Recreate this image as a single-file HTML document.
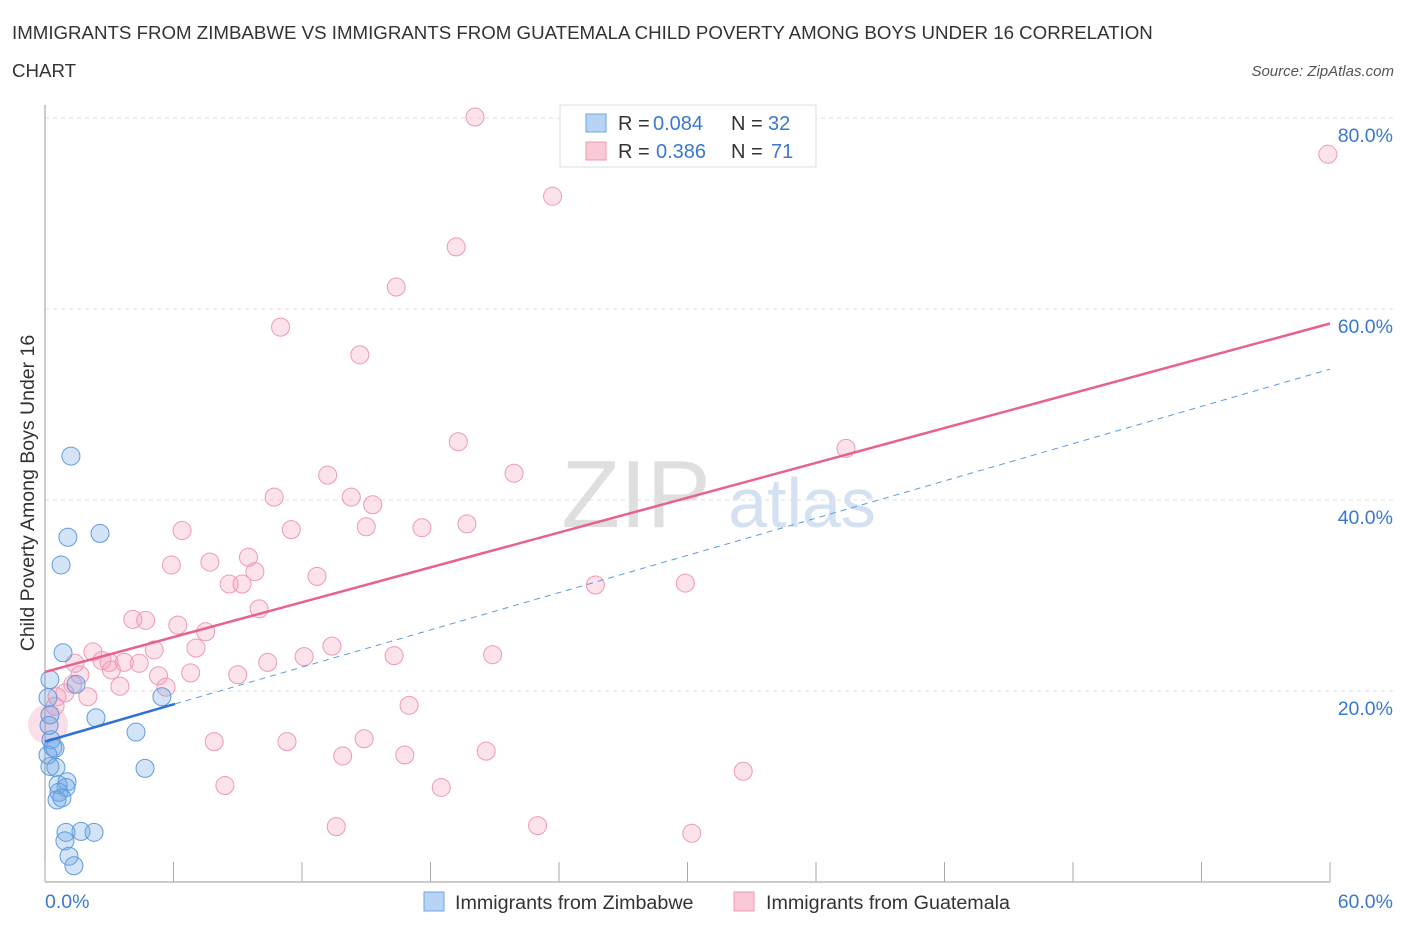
<!DOCTYPE html>
<html><head><meta charset="utf-8"><style>
body{margin:0;background:#fff;font-family:"Liberation Sans",sans-serif;}
svg text{font-family:"Liberation Sans",sans-serif;}
</style></head><body>
<svg id="chart" width="1406" height="930" xmlns="http://www.w3.org/2000/svg">
<text x="12" y="39" font-size="18.7" fill="#333">IMMIGRANTS FROM ZIMBABWE VS IMMIGRANTS FROM GUATEMALA CHILD POVERTY AMONG BOYS UNDER 16 CORRELATION</text>
<text x="12" y="77" font-size="18.7" fill="#333">CHART</text>
<text x="1394" y="76" font-size="15" fill="#555" text-anchor="end" font-style="italic">Source: ZipAtlas.com</text>
<g>
<text x="636" y="527" font-size="96" fill="#d8d8d8" text-anchor="middle" font-family="Liberation Serif" opacity="0.8">ZIP</text>
<text x="802" y="527" font-size="70" fill="#c9daf0" text-anchor="middle" opacity="0.8">atlas</text>
</g>
<g id="grid"></g><g id="axes"></g><g id="marks"></g>
<text transform="translate(34,493) rotate(-90)" font-size="19.5" fill="#333" text-anchor="middle">Child Poverty Among Boys Under 16</text>
<g>
<rect x="560" y="105" width="256" height="62" fill="#fff" stroke="#ddd"/>
<rect x="586" y="114" width="20" height="18" fill="#b8d4f5" stroke="#6fa3e3"/>
<rect x="586" y="142" width="20" height="18" fill="#fbc8d6" stroke="#ee9ab3"/>
<g font-size="20">
<text x="618" y="130" fill="#333">R =</text>
<text x="653" y="130" fill="#3a78d0">0.084</text>
<text x="731" y="130" fill="#333">N =</text>
<text x="768" y="130" fill="#3a78d0">32</text>
<text x="618" y="158" fill="#333">R =</text>
<text x="656" y="158" fill="#3a78d0">0.386</text>
<text x="731" y="158" fill="#333">N =</text>
<text x="771" y="158" fill="#3a78d0">71</text>
</g>
</g>
<g>
<rect x="424" y="892" width="20" height="19" fill="#b8d4f5" stroke="#6fa3e3"/>
<text x="455" y="909" font-size="19.7" fill="#333">Immigrants from Zimbabwe</text>
<rect x="734" y="892" width="20" height="19" fill="#fbc8d6" stroke="#ee9ab3"/>
<text x="766" y="909" font-size="19.7" fill="#333">Immigrants from Guatemala</text>
</g>
</svg>
<script>
const xTicks=[0,6,12,18,24,30,36,42,48,54,60];
const yTicks=[20,40,60,80];
const yTickLabels=["20.0%","40.0%","60.0%","80.0%"];
const zimX=[1.21,1.07,2.57,0.75,0.84,1.45,0.23,0.14,2.38,5.46,4.25,4.67,0.28,0.37,0.47,0.14,0.23,0.51,1.03,0.98,0.61,0.65,0.56,0.79,0.98,1.68,2.29,0.93,1.12,1.35,0.23,0.19];
const zimY=[44.6,36.1,36.5,33.2,24.0,20.7,21.2,19.3,17.2,19.4,15.7,11.9,14.9,14.1,14.0,13.3,12.1,12.0,10.5,9.9,10.2,9.4,8.6,8.8,5.2,5.3,5.2,4.3,2.7,1.7,17.5,16.4];
const guaX=[20.08,59.9,23.7,19.2,16.4,11.0,14.7,19.3,37.4,21.9,13.2,10.7,14.3,15.3,6.4,11.5,15.0,17.6,19.7,5.9,7.7,9.5,9.8,12.7,8.6,9.2,25.7,29.9,10.0,4.1,4.7,6.2,7.5,5.1,7.05,13.4,2.24,2.66,2.99,3.7,4.4,12.1,16.3,20.9,10.4,1.4,1.63,5.3,6.8,9.0,3.1,5.65,3.5,1.3,0.93,2.0,0.56,0.47,17.0,7.9,11.3,14.9,13.9,16.8,20.6,32.6,8.4,18.5,13.6,23.0,30.2];
const guaY=[80.1,76.2,71.8,66.5,62.3,58.1,55.2,46.1,45.4,42.8,42.6,40.3,40.3,39.5,36.8,36.9,37.2,37.1,37.5,33.2,33.5,34.0,32.5,32.0,31.2,31.2,31.1,31.3,28.6,27.5,27.4,26.9,26.2,24.3,24.5,24.7,24.1,23.2,23.0,23.0,22.9,23.6,23.7,23.8,23.0,22.9,21.7,21.6,21.9,21.7,22.2,20.4,20.5,20.7,19.8,19.4,19.4,18.4,18.5,14.7,14.7,15.0,13.2,13.3,13.7,11.6,10.1,9.9,5.8,5.9,5.1];
const zimTrend=[14.7,0.65];
const guaTrend=[22.0,0.608];
const bigPoint=[0.14,16.5];
const NS="http://www.w3.org/2000/svg";
const X=v=>45+v/60*1285, Y=v=>882-v/20*191;
function mk(t,a,p){const e=document.createElementNS(NS,t);for(const k in a)e.setAttribute(k,a[k]);p.appendChild(e);return e;}
const grid=document.getElementById('grid'),axes=document.getElementById('axes'),marks=document.getElementById('marks');
yTicks.forEach((t,i)=>{
 const l=mk('line',{x1:45,x2:1395,y1:Y(t),y2:Y(t),stroke:'#ddd','stroke-dasharray':'4,4'},grid);
 
 
 const tx=mk('text',{x:1393,y:Y(t)+24,'font-size':19.5,fill:'#3a78d0','text-anchor':'end'},axes);
 tx.textContent=yTickLabels[i];
 
 
});
const ya=mk('line',{x1:45,x2:45,y1:105,y2:882,stroke:'#999'},axes);


const xa=mk('line',{x1:45,x2:1330,y1:882,y2:882,stroke:'#999'},axes);


xTicks.forEach(t=>{
 const l=mk('line',{x1:X(t),x2:X(t),y1:862,y2:882,stroke:'#aaa'},axes);
 
 
});
[[0,'start',45],[60,'end',1393]].forEach(([v,a,px])=>{
 const tx=mk('text',{x:px,y:908,'font-size':19.5,fill:'#3a78d0','text-anchor':a},axes);
 tx.textContent=v.toFixed(1)+'%';
 
 
});
const bp=mk('circle',{cx:X(bigPoint[0]),cy:Y(bigPoint[1]),r:20,fill:'rgba(240,150,180,0.3)',stroke:'none'},marks);


guaX.forEach((x,i)=>{
 const c=mk('circle',{cx:X(x),cy:Y(guaY[i]),r:9,fill:'rgba(244,160,188,0.3)',stroke:'#ee9ab3','stroke-width':1},marks);
 
 
});
zimX.forEach((x,i)=>{
 const c=mk('circle',{cx:X(x),cy:Y(zimY[i]),r:9,fill:'rgba(110,165,230,0.3)',stroke:'#5f9be0','stroke-width':1},marks);
 
 
});
const gl=mk('line',{x1:X(0),y1:Y(guaTrend[0]),x2:X(60),y2:Y(guaTrend[0]+guaTrend[1]*60),stroke:'#e8618f','stroke-width':2.5},marks);


const zmax=6.07;
const zd=mk('line',{x1:X(zmax),y1:Y(zimTrend[0]+zimTrend[1]*zmax),x2:X(60),y2:Y(zimTrend[0]+zimTrend[1]*60),stroke:'#5f9be0','stroke-width':1,'stroke-dasharray':'6,5'},marks);


const zl=mk('line',{x1:X(0),y1:Y(zimTrend[0]),x2:X(zmax),y2:Y(zimTrend[0]+zimTrend[1]*zmax),stroke:'#2f72d6','stroke-width':2.5},marks);


</script>
</body></html>
